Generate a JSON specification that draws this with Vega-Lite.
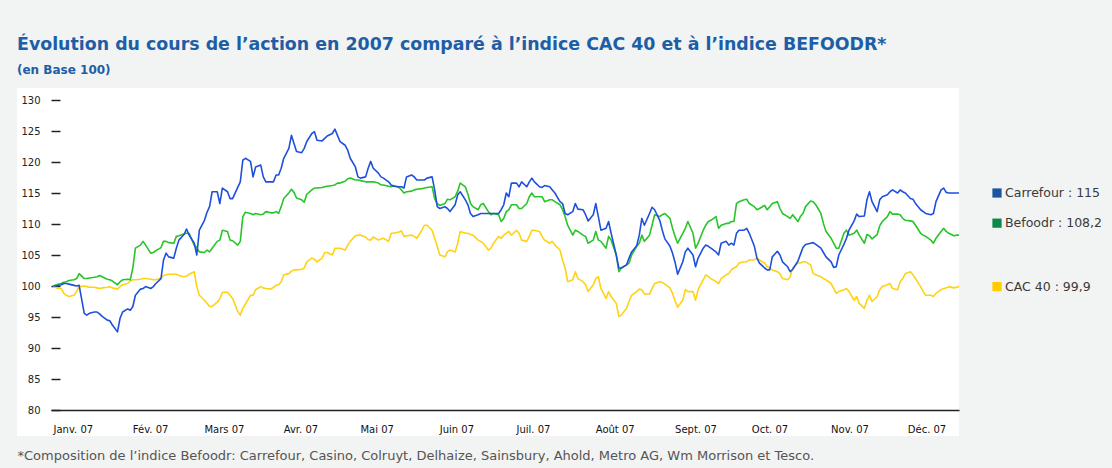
{
  "$schema": "https://vega.github.io/schema/vega-lite/v6.json",
  "width": 942,
  "height": 348,
  "autosize": {"type": "none"},
  "padding": {"left": 17, "top": 88, "right": 153, "bottom": 32},
  "background": "#f2f3f3",
  "config": {"font": "DejaVu Sans", "view": {"fill": "white", "stroke": null}},
  "title": {
    "text": "Évolution du cours de l’action en 2007 comparé à l’indice CAC 40 et à l’indice BEFOODR*",
    "subtitle": "(en Base 100)",
    "anchor": "start", "frame": "group", "dx": 0, "offset": 12,
    "font": "DejaVu Sans", "fontSize": 17.4, "fontWeight": "bold", "color": "#1d5ea6",
    "subtitleFont": "DejaVu Sans", "subtitleFontSize": 12, "subtitleFontWeight": "bold", "subtitleColor": "#1d5ea6", "subtitlePadding": 12
  },
  "datasets": {
    "cours": [
      {"date":"2007-01-02","Carrefour":100.0,"Befoodr":100.0,"CAC40":100.0},
      {"date":"2007-01-03","Carrefour":100.0,"Befoodr":100.2,"CAC40":99.7},
      {"date":"2007-01-05","Carrefour":100.2,"Befoodr":100.4,"CAC40":99.6},
      {"date":"2007-01-06","Carrefour":100.4,"Befoodr":100.6,"CAC40":98.8},
      {"date":"2007-01-07","Carrefour":100.4,"Befoodr":100.7,"CAC40":98.5},
      {"date":"2007-01-08","Carrefour":100.3,"Befoodr":100.9,"CAC40":98.3},
      {"date":"2007-01-10","Carrefour":100.1,"Befoodr":101.0,"CAC40":98.5},
      {"date":"2007-01-11","Carrefour":100.0,"Befoodr":101.2,"CAC40":99.1},
      {"date":"2007-01-12","Carrefour":100.1,"Befoodr":102.0,"CAC40":99.9},
      {"date":"2007-01-14","Carrefour":95.6,"Befoodr":101.2,"CAC40":100.0},
      {"date":"2007-01-15","Carrefour":95.3,"Befoodr":101.2,"CAC40":99.9},
      {"date":"2007-01-16","Carrefour":95.6,"Befoodr":101.3,"CAC40":99.8},
      {"date":"2007-01-18","Carrefour":95.8,"Befoodr":101.4,"CAC40":99.8},
      {"date":"2007-01-19","Carrefour":95.8,"Befoodr":101.5,"CAC40":99.7},
      {"date":"2007-01-20","Carrefour":95.5,"Befoodr":101.7,"CAC40":99.6},
      {"date":"2007-01-21","Carrefour":95.1,"Befoodr":101.5,"CAC40":99.7},
      {"date":"2007-01-23","Carrefour":94.5,"Befoodr":101.1,"CAC40":99.8},
      {"date":"2007-01-24","Carrefour":94.4,"Befoodr":101.0,"CAC40":99.9},
      {"date":"2007-01-25","Carrefour":93.7,"Befoodr":100.8,"CAC40":99.7},
      {"date":"2007-01-27","Carrefour":92.6,"Befoodr":100.2,"CAC40":99.5},
      {"date":"2007-01-28","Carrefour":94.8,"Befoodr":100.7,"CAC40":99.9},
      {"date":"2007-01-29","Carrefour":95.8,"Befoodr":101.0,"CAC40":100.2},
      {"date":"2007-01-31","Carrefour":96.3,"Befoodr":101.1,"CAC40":100.4},
      {"date":"2007-02-01","Carrefour":96.1,"Befoodr":101.0,"CAC40":100.8},
      {"date":"2007-02-02","Carrefour":96.7,"Befoodr":102.9,"CAC40":101.0},
      {"date":"2007-02-03","Carrefour":98.5,"Befoodr":106.1,"CAC40":101.0},
      {"date":"2007-02-05","Carrefour":99.5,"Befoodr":106.6,"CAC40":101.1},
      {"date":"2007-02-06","Carrefour":99.6,"Befoodr":107.2,"CAC40":101.2},
      {"date":"2007-02-07","Carrefour":99.9,"Befoodr":106.6,"CAC40":101.2},
      {"date":"2007-02-09","Carrefour":99.6,"Befoodr":105.3,"CAC40":101.1},
      {"date":"2007-02-10","Carrefour":99.9,"Befoodr":105.4,"CAC40":101.0},
      {"date":"2007-02-11","Carrefour":100.4,"Befoodr":105.7,"CAC40":101.0},
      {"date":"2007-02-13","Carrefour":101.2,"Befoodr":106.2,"CAC40":101.3},
      {"date":"2007-02-14","Carrefour":104.2,"Befoodr":107.2,"CAC40":101.7},
      {"date":"2007-02-15","Carrefour":105.3,"Befoodr":107.2,"CAC40":101.8},
      {"date":"2007-02-16","Carrefour":104.7,"Befoodr":107.0,"CAC40":101.9},
      {"date":"2007-02-18","Carrefour":104.5,"Befoodr":106.9,"CAC40":101.9},
      {"date":"2007-02-19","Carrefour":106.1,"Befoodr":108.0,"CAC40":101.9},
      {"date":"2007-02-20","Carrefour":107.4,"Befoodr":108.1,"CAC40":101.7},
      {"date":"2007-02-22","Carrefour":108.3,"Befoodr":108.4,"CAC40":101.5},
      {"date":"2007-02-23","Carrefour":109.2,"Befoodr":108.5,"CAC40":101.6},
      {"date":"2007-02-24","Carrefour":108.2,"Befoodr":108.5,"CAC40":101.9},
      {"date":"2007-02-26","Carrefour":106.9,"Befoodr":106.6,"CAC40":102.3},
      {"date":"2007-02-27","Carrefour":105.0,"Befoodr":106.2,"CAC40":99.9},
      {"date":"2007-02-28","Carrefour":109.0,"Befoodr":105.5,"CAC40":98.5},
      {"date":"2007-03-02","Carrefour":110.6,"Befoodr":105.4,"CAC40":97.7},
      {"date":"2007-03-03","Carrefour":111.9,"Befoodr":105.8,"CAC40":97.2},
      {"date":"2007-03-04","Carrefour":112.8,"Befoodr":105.5,"CAC40":96.7},
      {"date":"2007-03-05","Carrefour":115.2,"Befoodr":106.1,"CAC40":96.7},
      {"date":"2007-03-07","Carrefour":115.2,"Befoodr":107.2,"CAC40":97.4},
      {"date":"2007-03-08","Carrefour":113.3,"Befoodr":107.4,"CAC40":97.9},
      {"date":"2007-03-09","Carrefour":115.8,"Befoodr":109.0,"CAC40":99.0},
      {"date":"2007-03-11","Carrefour":115.2,"Befoodr":108.8,"CAC40":99.0},
      {"date":"2007-03-12","Carrefour":114.1,"Befoodr":107.4,"CAC40":98.5},
      {"date":"2007-03-13","Carrefour":114.1,"Befoodr":107.3,"CAC40":98.0},
      {"date":"2007-03-15","Carrefour":115.9,"Befoodr":106.6,"CAC40":95.9},
      {"date":"2007-03-16","Carrefour":116.8,"Befoodr":107.2,"CAC40":95.3},
      {"date":"2007-03-17","Carrefour":120.3,"Befoodr":111.2,"CAC40":96.4},
      {"date":"2007-03-18","Carrefour":120.6,"Befoodr":111.9,"CAC40":97.1},
      {"date":"2007-03-20","Carrefour":120.1,"Befoodr":111.7,"CAC40":98.5},
      {"date":"2007-03-21","Carrefour":117.6,"Befoodr":111.5,"CAC40":98.5},
      {"date":"2007-03-22","Carrefour":119.2,"Befoodr":111.7,"CAC40":99.4},
      {"date":"2007-03-24","Carrefour":119.5,"Befoodr":111.5,"CAC40":99.9},
      {"date":"2007-03-25","Carrefour":117.6,"Befoodr":111.6,"CAC40":99.7},
      {"date":"2007-03-26","Carrefour":116.8,"Befoodr":112.0,"CAC40":99.6},
      {"date":"2007-03-28","Carrefour":116.8,"Befoodr":111.8,"CAC40":99.5},
      {"date":"2007-03-29","Carrefour":116.8,"Befoodr":111.8,"CAC40":99.8},
      {"date":"2007-03-30","Carrefour":117.9,"Befoodr":112.0,"CAC40":100.1},
      {"date":"2007-03-31","Carrefour":117.9,"Befoodr":111.7,"CAC40":100.2},
      {"date":"2007-04-01","Carrefour":119.0,"Befoodr":112.8,"CAC40":100.7},
      {"date":"2007-04-02","Carrefour":120.6,"Befoodr":114.1,"CAC40":101.8},
      {"date":"2007-04-04","Carrefour":122.2,"Befoodr":115.0,"CAC40":102.0},
      {"date":"2007-04-05","Carrefour":124.3,"Befoodr":115.6,"CAC40":102.4},
      {"date":"2007-04-06","Carrefour":123.0,"Befoodr":115.1,"CAC40":102.6},
      {"date":"2007-04-07","Carrefour":121.7,"Befoodr":114.2,"CAC40":102.6},
      {"date":"2007-04-09","Carrefour":121.5,"Befoodr":113.9,"CAC40":102.7},
      {"date":"2007-04-10","Carrefour":122.2,"Befoodr":113.5,"CAC40":102.9},
      {"date":"2007-04-11","Carrefour":123.3,"Befoodr":114.8,"CAC40":103.9},
      {"date":"2007-04-13","Carrefour":124.6,"Befoodr":115.5,"CAC40":104.5},
      {"date":"2007-04-14","Carrefour":124.9,"Befoodr":115.8,"CAC40":104.3},
      {"date":"2007-04-15","Carrefour":123.5,"Befoodr":115.8,"CAC40":103.9},
      {"date":"2007-04-17","Carrefour":123.4,"Befoodr":115.9,"CAC40":104.5},
      {"date":"2007-04-18","Carrefour":123.8,"Befoodr":116.0,"CAC40":105.4},
      {"date":"2007-04-19","Carrefour":124.2,"Befoodr":116.1,"CAC40":105.4},
      {"date":"2007-04-21","Carrefour":124.6,"Befoodr":116.2,"CAC40":105.0},
      {"date":"2007-04-22","Carrefour":125.3,"Befoodr":116.3,"CAC40":106.1},
      {"date":"2007-04-23","Carrefour":124.3,"Befoodr":116.6,"CAC40":106.1},
      {"date":"2007-04-24","Carrefour":123.3,"Befoodr":116.6,"CAC40":106.1},
      {"date":"2007-04-26","Carrefour":122.7,"Befoodr":116.9,"CAC40":105.8},
      {"date":"2007-04-27","Carrefour":121.9,"Befoodr":117.3,"CAC40":106.6},
      {"date":"2007-04-28","Carrefour":120.6,"Befoodr":117.4,"CAC40":107.2},
      {"date":"2007-04-30","Carrefour":119.2,"Befoodr":117.1,"CAC40":108.1},
      {"date":"2007-05-01","Carrefour":117.6,"Befoodr":117.1,"CAC40":108.2},
      {"date":"2007-05-02","Carrefour":117.4,"Befoodr":117.0,"CAC40":108.2},
      {"date":"2007-05-04","Carrefour":117.6,"Befoodr":116.8,"CAC40":107.9},
      {"date":"2007-05-05","Carrefour":119.0,"Befoodr":116.8,"CAC40":107.5},
      {"date":"2007-05-06","Carrefour":120.1,"Befoodr":116.8,"CAC40":107.4},
      {"date":"2007-05-07","Carrefour":119.0,"Befoodr":116.8,"CAC40":107.9},
      {"date":"2007-05-09","Carrefour":118.2,"Befoodr":116.6,"CAC40":107.4},
      {"date":"2007-05-10","Carrefour":117.6,"Befoodr":116.3,"CAC40":107.6},
      {"date":"2007-05-11","Carrefour":117.4,"Befoodr":116.3,"CAC40":107.7},
      {"date":"2007-05-13","Carrefour":116.8,"Befoodr":116.1,"CAC40":107.2},
      {"date":"2007-05-14","Carrefour":116.3,"Befoodr":116.0,"CAC40":108.5},
      {"date":"2007-05-15","Carrefour":116.1,"Befoodr":116.2,"CAC40":108.5},
      {"date":"2007-05-17","Carrefour":116.0,"Befoodr":115.9,"CAC40":108.7},
      {"date":"2007-05-18","Carrefour":116.0,"Befoodr":115.5,"CAC40":108.9},
      {"date":"2007-05-19","Carrefour":115.8,"Befoodr":115.0,"CAC40":108.0},
      {"date":"2007-05-20","Carrefour":117.6,"Befoodr":115.2,"CAC40":108.1},
      {"date":"2007-05-22","Carrefour":117.9,"Befoodr":115.3,"CAC40":108.2},
      {"date":"2007-05-23","Carrefour":117.6,"Befoodr":115.5,"CAC40":108.0},
      {"date":"2007-05-24","Carrefour":117.1,"Befoodr":115.6,"CAC40":107.7},
      {"date":"2007-05-26","Carrefour":117.1,"Befoodr":115.7,"CAC40":109.0},
      {"date":"2007-05-27","Carrefour":117.1,"Befoodr":115.8,"CAC40":109.8},
      {"date":"2007-05-28","Carrefour":117.4,"Befoodr":115.9,"CAC40":109.8},
      {"date":"2007-05-30","Carrefour":117.6,"Befoodr":116.0,"CAC40":109.0},
      {"date":"2007-05-31","Carrefour":115.5,"Befoodr":114.1,"CAC40":107.7},
      {"date":"2007-06-01","Carrefour":112.8,"Befoodr":113.3,"CAC40":106.4},
      {"date":"2007-06-02","Carrefour":112.5,"Befoodr":113.0,"CAC40":105.0},
      {"date":"2007-06-04","Carrefour":112.8,"Befoodr":113.3,"CAC40":104.7},
      {"date":"2007-06-05","Carrefour":112.5,"Befoodr":114.0,"CAC40":105.5},
      {"date":"2007-06-06","Carrefour":112.0,"Befoodr":113.9,"CAC40":105.8},
      {"date":"2007-06-08","Carrefour":113.1,"Befoodr":114.4,"CAC40":105.5},
      {"date":"2007-06-09","Carrefour":114.7,"Befoodr":115.3,"CAC40":106.9},
      {"date":"2007-06-10","Carrefour":115.2,"Befoodr":116.6,"CAC40":108.8},
      {"date":"2007-06-12","Carrefour":113.9,"Befoodr":116.0,"CAC40":108.5},
      {"date":"2007-06-13","Carrefour":113.1,"Befoodr":114.8,"CAC40":108.5},
      {"date":"2007-06-14","Carrefour":111.7,"Befoodr":113.3,"CAC40":108.3},
      {"date":"2007-06-15","Carrefour":111.2,"Befoodr":112.8,"CAC40":108.2},
      {"date":"2007-06-17","Carrefour":111.5,"Befoodr":112.3,"CAC40":107.4},
      {"date":"2007-06-18","Carrefour":111.7,"Befoodr":113.1,"CAC40":107.2},
      {"date":"2007-06-19","Carrefour":111.7,"Befoodr":113.3,"CAC40":106.9},
      {"date":"2007-06-21","Carrefour":111.7,"Befoodr":112.0,"CAC40":105.8},
      {"date":"2007-06-22","Carrefour":111.7,"Befoodr":111.5,"CAC40":106.1},
      {"date":"2007-06-23","Carrefour":111.7,"Befoodr":111.7,"CAC40":106.9},
      {"date":"2007-06-25","Carrefour":111.7,"Befoodr":111.5,"CAC40":108.0},
      {"date":"2007-06-26","Carrefour":112.3,"Befoodr":110.4,"CAC40":107.7},
      {"date":"2007-06-27","Carrefour":113.1,"Befoodr":110.9,"CAC40":108.2},
      {"date":"2007-06-28","Carrefour":115.0,"Befoodr":112.0,"CAC40":108.5},
      {"date":"2007-06-29","Carrefour":114.4,"Befoodr":112.3,"CAC40":108.8},
      {"date":"2007-06-30","Carrefour":116.6,"Befoodr":113.1,"CAC40":108.2},
      {"date":"2007-07-02","Carrefour":116.6,"Befoodr":113.1,"CAC40":109.0},
      {"date":"2007-07-03","Carrefour":116.0,"Befoodr":112.5,"CAC40":108.5},
      {"date":"2007-07-04","Carrefour":116.8,"Befoodr":112.5,"CAC40":107.4},
      {"date":"2007-07-06","Carrefour":116.0,"Befoodr":113.3,"CAC40":107.2},
      {"date":"2007-07-07","Carrefour":116.8,"Befoodr":114.4,"CAC40":108.0},
      {"date":"2007-07-08","Carrefour":117.4,"Befoodr":115.0,"CAC40":109.0},
      {"date":"2007-07-09","Carrefour":116.8,"Befoodr":114.4,"CAC40":109.0},
      {"date":"2007-07-11","Carrefour":116.0,"Befoodr":114.4,"CAC40":108.8},
      {"date":"2007-07-12","Carrefour":115.9,"Befoodr":114.4,"CAC40":108.0},
      {"date":"2007-07-13","Carrefour":116.2,"Befoodr":113.6,"CAC40":107.4},
      {"date":"2007-07-15","Carrefour":116.0,"Befoodr":113.9,"CAC40":106.9},
      {"date":"2007-07-16","Carrefour":115.5,"Befoodr":113.9,"CAC40":107.2},
      {"date":"2007-07-17","Carrefour":115.0,"Befoodr":113.6,"CAC40":106.6},
      {"date":"2007-07-19","Carrefour":113.6,"Befoodr":113.1,"CAC40":105.8},
      {"date":"2007-07-20","Carrefour":113.3,"Befoodr":112.3,"CAC40":104.2},
      {"date":"2007-07-21","Carrefour":111.7,"Befoodr":111.2,"CAC40":102.9},
      {"date":"2007-07-22","Carrefour":111.5,"Befoodr":109.8,"CAC40":100.7},
      {"date":"2007-07-24","Carrefour":112.0,"Befoodr":108.2,"CAC40":101.0},
      {"date":"2007-07-25","Carrefour":113.3,"Befoodr":109.0,"CAC40":102.3},
      {"date":"2007-07-26","Carrefour":112.4,"Befoodr":108.8,"CAC40":101.2},
      {"date":"2007-07-28","Carrefour":112.3,"Befoodr":108.2,"CAC40":100.7},
      {"date":"2007-07-29","Carrefour":111.5,"Befoodr":108.0,"CAC40":100.2},
      {"date":"2007-07-30","Carrefour":110.5,"Befoodr":106.9,"CAC40":99.1},
      {"date":"2007-08-01","Carrefour":111.5,"Befoodr":107.4,"CAC40":100.2},
      {"date":"2007-08-02","Carrefour":113.3,"Befoodr":108.8,"CAC40":101.2},
      {"date":"2007-08-03","Carrefour":111.2,"Befoodr":107.4,"CAC40":101.5},
      {"date":"2007-08-04","Carrefour":109.0,"Befoodr":107.2,"CAC40":99.6},
      {"date":"2007-08-06","Carrefour":109.3,"Befoodr":106.1,"CAC40":98.0},
      {"date":"2007-08-07","Carrefour":110.4,"Befoodr":108.0,"CAC40":99.1},
      {"date":"2007-08-08","Carrefour":108.5,"Befoodr":107.4,"CAC40":98.3},
      {"date":"2007-08-10","Carrefour":105.0,"Befoodr":105.0,"CAC40":97.2},
      {"date":"2007-08-11","Carrefour":102.9,"Befoodr":102.3,"CAC40":95.1},
      {"date":"2007-08-12","Carrefour":102.9,"Befoodr":102.9,"CAC40":95.3},
      {"date":"2007-08-14","Carrefour":103.4,"Befoodr":103.4,"CAC40":96.4},
      {"date":"2007-08-15","Carrefour":104.5,"Befoodr":103.7,"CAC40":97.5},
      {"date":"2007-08-16","Carrefour":105.5,"Befoodr":105.0,"CAC40":98.5},
      {"date":"2007-08-18","Carrefour":106.5,"Befoodr":106.4,"CAC40":99.1},
      {"date":"2007-08-19","Carrefour":108.2,"Befoodr":106.9,"CAC40":99.5},
      {"date":"2007-08-20","Carrefour":110.9,"Befoodr":108.2,"CAC40":99.4},
      {"date":"2007-08-21","Carrefour":109.8,"Befoodr":107.2,"CAC40":98.7},
      {"date":"2007-08-23","Carrefour":111.7,"Befoodr":108.2,"CAC40":98.7},
      {"date":"2007-08-24","Carrefour":112.7,"Befoodr":109.8,"CAC40":99.6},
      {"date":"2007-08-25","Carrefour":112.3,"Befoodr":111.5,"CAC40":100.4},
      {"date":"2007-08-27","Carrefour":110.6,"Befoodr":111.2,"CAC40":100.7},
      {"date":"2007-08-28","Carrefour":109.0,"Befoodr":111.5,"CAC40":100.6},
      {"date":"2007-08-29","Carrefour":107.6,"Befoodr":111.7,"CAC40":100.3},
      {"date":"2007-08-31","Carrefour":106.4,"Befoodr":110.9,"CAC40":99.7},
      {"date":"2007-09-01","Carrefour":105.3,"Befoodr":109.3,"CAC40":98.8},
      {"date":"2007-09-02","Carrefour":103.8,"Befoodr":108.0,"CAC40":97.6},
      {"date":"2007-09-03","Carrefour":101.9,"Befoodr":106.9,"CAC40":96.6},
      {"date":"2007-09-05","Carrefour":103.9,"Befoodr":108.5,"CAC40":97.7},
      {"date":"2007-09-06","Carrefour":105.5,"Befoodr":109.3,"CAC40":99.4},
      {"date":"2007-09-07","Carrefour":106.1,"Befoodr":110.4,"CAC40":99.1},
      {"date":"2007-09-09","Carrefour":105.0,"Befoodr":108.5,"CAC40":99.1},
      {"date":"2007-09-10","Carrefour":103.1,"Befoodr":106.1,"CAC40":97.7},
      {"date":"2007-09-11","Carrefour":104.5,"Befoodr":106.9,"CAC40":99.4},
      {"date":"2007-09-13","Carrefour":106.1,"Befoodr":109.0,"CAC40":101.0},
      {"date":"2007-09-14","Carrefour":106.6,"Befoodr":109.8,"CAC40":101.8},
      {"date":"2007-09-15","Carrefour":106.4,"Befoodr":110.4,"CAC40":101.5},
      {"date":"2007-09-16","Carrefour":106.1,"Befoodr":110.6,"CAC40":101.2},
      {"date":"2007-09-18","Carrefour":105.5,"Befoodr":111.2,"CAC40":100.7},
      {"date":"2007-09-19","Carrefour":105.0,"Befoodr":109.3,"CAC40":100.4},
      {"date":"2007-09-20","Carrefour":106.9,"Befoodr":109.8,"CAC40":101.2},
      {"date":"2007-09-22","Carrefour":107.2,"Befoodr":110.1,"CAC40":101.8},
      {"date":"2007-09-23","Carrefour":106.6,"Befoodr":110.1,"CAC40":102.0},
      {"date":"2007-09-24","Carrefour":106.9,"Befoodr":110.4,"CAC40":102.6},
      {"date":"2007-09-25","Carrefour":106.6,"Befoodr":110.4,"CAC40":102.9},
      {"date":"2007-09-26","Carrefour":108.5,"Befoodr":113.3,"CAC40":103.1},
      {"date":"2007-09-27","Carrefour":109.0,"Befoodr":113.6,"CAC40":103.7},
      {"date":"2007-09-29","Carrefour":109.0,"Befoodr":113.9,"CAC40":103.9},
      {"date":"2007-09-30","Carrefour":109.3,"Befoodr":114.0,"CAC40":103.9},
      {"date":"2007-10-01","Carrefour":108.5,"Befoodr":113.3,"CAC40":104.2},
      {"date":"2007-10-03","Carrefour":106.4,"Befoodr":112.8,"CAC40":104.2},
      {"date":"2007-10-04","Carrefour":104.5,"Befoodr":112.3,"CAC40":104.5},
      {"date":"2007-10-05","Carrefour":103.7,"Befoodr":112.5,"CAC40":104.2},
      {"date":"2007-10-07","Carrefour":102.9,"Befoodr":113.0,"CAC40":103.7},
      {"date":"2007-10-08","Carrefour":102.6,"Befoodr":112.3,"CAC40":103.1},
      {"date":"2007-10-09","Carrefour":102.6,"Befoodr":112.8,"CAC40":102.9},
      {"date":"2007-10-10","Carrefour":104.7,"Befoodr":113.3,"CAC40":102.6},
      {"date":"2007-10-12","Carrefour":105.6,"Befoodr":113.6,"CAC40":102.3},
      {"date":"2007-10-13","Carrefour":105.0,"Befoodr":112.5,"CAC40":102.0},
      {"date":"2007-10-14","Carrefour":103.9,"Befoodr":111.7,"CAC40":101.2},
      {"date":"2007-10-16","Carrefour":103.1,"Befoodr":111.2,"CAC40":101.0},
      {"date":"2007-10-17","Carrefour":102.3,"Befoodr":110.9,"CAC40":101.5},
      {"date":"2007-10-18","Carrefour":102.7,"Befoodr":111.5,"CAC40":102.9},
      {"date":"2007-10-20","Carrefour":104.0,"Befoodr":110.4,"CAC40":103.7},
      {"date":"2007-10-21","Carrefour":105.1,"Befoodr":111.2,"CAC40":103.7},
      {"date":"2007-10-22","Carrefour":106.2,"Befoodr":111.7,"CAC40":103.9},
      {"date":"2007-10-23","Carrefour":106.7,"Befoodr":112.8,"CAC40":103.9},
      {"date":"2007-10-25","Carrefour":106.9,"Befoodr":113.7,"CAC40":103.4},
      {"date":"2007-10-26","Carrefour":107.0,"Befoodr":113.6,"CAC40":102.0},
      {"date":"2007-10-27","Carrefour":106.7,"Befoodr":113.1,"CAC40":101.8},
      {"date":"2007-10-29","Carrefour":106.1,"Befoodr":111.7,"CAC40":101.5},
      {"date":"2007-10-30","Carrefour":105.4,"Befoodr":110.1,"CAC40":101.2},
      {"date":"2007-10-31","Carrefour":104.7,"Befoodr":108.8,"CAC40":101.0},
      {"date":"2007-11-02","Carrefour":103.9,"Befoodr":107.7,"CAC40":100.4},
      {"date":"2007-11-03","Carrefour":103.0,"Befoodr":106.9,"CAC40":99.6},
      {"date":"2007-11-04","Carrefour":103.1,"Befoodr":106.1,"CAC40":98.8},
      {"date":"2007-11-05","Carrefour":105.0,"Befoodr":106.1,"CAC40":99.1},
      {"date":"2007-11-07","Carrefour":106.7,"Befoodr":108.5,"CAC40":99.4},
      {"date":"2007-11-08","Carrefour":107.7,"Befoodr":109.0,"CAC40":99.6},
      {"date":"2007-11-09","Carrefour":109.0,"Befoodr":108.2,"CAC40":99.1},
      {"date":"2007-11-11","Carrefour":110.5,"Befoodr":108.5,"CAC40":97.7},
      {"date":"2007-11-12","Carrefour":111.6,"Befoodr":109.0,"CAC40":98.3},
      {"date":"2007-11-13","Carrefour":111.2,"Befoodr":108.2,"CAC40":97.2},
      {"date":"2007-11-15","Carrefour":111.3,"Befoodr":106.9,"CAC40":96.4},
      {"date":"2007-11-16","Carrefour":113.9,"Befoodr":108.3,"CAC40":97.7},
      {"date":"2007-11-17","Carrefour":115.2,"Befoodr":108.1,"CAC40":98.5},
      {"date":"2007-11-18","Carrefour":113.6,"Befoodr":107.6,"CAC40":97.5},
      {"date":"2007-11-20","Carrefour":112.0,"Befoodr":108.3,"CAC40":98.3},
      {"date":"2007-11-21","Carrefour":113.9,"Befoodr":109.7,"CAC40":99.4},
      {"date":"2007-11-22","Carrefour":114.4,"Befoodr":110.4,"CAC40":99.9},
      {"date":"2007-11-24","Carrefour":114.7,"Befoodr":111.2,"CAC40":100.2},
      {"date":"2007-11-25","Carrefour":115.2,"Befoodr":112.0,"CAC40":100.4},
      {"date":"2007-11-26","Carrefour":115.5,"Befoodr":111.6,"CAC40":99.6},
      {"date":"2007-11-28","Carrefour":115.0,"Befoodr":111.6,"CAC40":99.4},
      {"date":"2007-11-29","Carrefour":115.5,"Befoodr":111.5,"CAC40":100.7},
      {"date":"2007-11-30","Carrefour":115.2,"Befoodr":110.9,"CAC40":101.2},
      {"date":"2007-12-01","Carrefour":115.0,"Befoodr":110.6,"CAC40":102.0},
      {"date":"2007-12-03","Carrefour":114.1,"Befoodr":110.5,"CAC40":102.3},
      {"date":"2007-12-04","Carrefour":114.0,"Befoodr":110.4,"CAC40":101.8},
      {"date":"2007-12-05","Carrefour":113.3,"Befoodr":109.8,"CAC40":101.2},
      {"date":"2007-12-07","Carrefour":112.3,"Befoodr":108.5,"CAC40":99.9},
      {"date":"2007-12-08","Carrefour":112.0,"Befoodr":108.2,"CAC40":99.1},
      {"date":"2007-12-09","Carrefour":111.7,"Befoodr":108.0,"CAC40":98.5},
      {"date":"2007-12-11","Carrefour":111.5,"Befoodr":107.4,"CAC40":98.5},
      {"date":"2007-12-12","Carrefour":111.7,"Befoodr":106.9,"CAC40":98.3},
      {"date":"2007-12-13","Carrefour":113.6,"Befoodr":107.7,"CAC40":98.8},
      {"date":"2007-12-15","Carrefour":115.5,"Befoodr":108.8,"CAC40":99.4},
      {"date":"2007-12-16","Carrefour":115.8,"Befoodr":109.3,"CAC40":99.6},
      {"date":"2007-12-17","Carrefour":115.1,"Befoodr":108.8,"CAC40":99.7},
      {"date":"2007-12-18","Carrefour":115.0,"Befoodr":108.5,"CAC40":99.9},
      {"date":"2007-12-20","Carrefour":115.0,"Befoodr":108.1,"CAC40":99.7},
      {"date":"2007-12-21","Carrefour":115.0,"Befoodr":108.2,"CAC40":99.8},
      {"date":"2007-12-22","Carrefour":115.0,"Befoodr":108.2,"CAC40":99.9}
    ],
    "legende": [
      {"serie": "Carrefour", "libelle": "Carrefour : 115", "date": "2007-12-22", "valeur": 115},
      {"serie": "Befoodr", "libelle": "Befoodr : 108,2", "date": "2007-12-22", "valeur": 108.2},
      {"serie": "CAC40", "libelle": "CAC 40 : 99,9", "date": "2007-12-22", "valeur": 99.9}
    ]
  },
  "encoding": {
    "x": {
      "field": "date", "type": "temporal",
      "scale": {"type": "utc", "range": [34, 942], "domain": [{"year": 2007, "month": 1, "date": 1, "utc": true}, {"year": 2007, "month": 12, "date": 22, "utc": true}]},
      "axis": {
        "offset": -26,
        "title": "*Composition de l’indice Befoodr: Carrefour, Casino, Colruyt, Delhaize, Sainsbury, Ahold, Metro AG, Wm Morrison et Tesco.",
        "titleX": 0, "titleY": 45, "titleAlign": "left", "titleAnchor": "start", "titleBaseline": "middle",
        "titleFont": "DejaVu Sans", "titleFontSize": 13, "titleFontWeight": "normal", "titleColor": "#555555",
        "values": [
          {"year": 2007, "month": 1, "date": 1, "utc": true},
          {"year": 2007, "month": 2, "date": 1, "utc": true},
          {"year": 2007, "month": 3, "date": 1, "utc": true},
          {"year": 2007, "month": 4, "date": 1, "utc": true},
          {"year": 2007, "month": 5, "date": 1, "utc": true},
          {"year": 2007, "month": 6, "date": 1, "utc": true},
          {"year": 2007, "month": 7, "date": 1, "utc": true},
          {"year": 2007, "month": 8, "date": 1, "utc": true},
          {"year": 2007, "month": 9, "date": 1, "utc": true},
          {"year": 2007, "month": 10, "date": 1, "utc": true},
          {"year": 2007, "month": 11, "date": 1, "utc": true},
          {"year": 2007, "month": 12, "date": 1, "utc": true}
        ],
        "labelExpr": "['Janv. 07','Fév. 07','Mars 07','Avr. 07','Mai 07','Juin 07','Juil. 07','Août 07','Sept. 07','Oct. 07','Nov. 07','Déc. 07'][utcmonth(datum.value)]",
        "labelAlign": "left", "labelOffset": 2, "labelPadding": 14, "labelFont": "DejaVu Sans", "labelFontSize": 10, "labelColor": "#111111",
        "labelOverlap": false, "labelFlush": false,
        "ticks": false, "grid": false, "domainColor": "#222222", "domainWidth": 1.5
      }
    },
    "y": {
      "field": "indice", "type": "quantitative",
      "scale": {"domain": [80, 130], "zero": false, "nice": false, "range": [322, 12]},
      "axis": {
        "offset": -34,
        "title": null, "values": [80, 85, 90, 95, 100, 105, 110, 115, 120, 125, 130],
        "domain": false, "grid": false, "tickSize": -9, "tickWidth": 1.5, "tickColor": "#222222",
        "labelPadding": 20, "labelFont": "DejaVu Sans", "labelFontSize": 10, "labelColor": "#222222"
      }
    }
  },
  "layer": [
    {
      "data": {"name": "cours"},
      "transform": [{"fold": ["CAC40", "Befoodr", "Carrefour"], "as": ["serie", "indice"]}],
      "mark": {"type": "line", "strokeWidth": 1.6, "strokeJoin": "round"},
      "encoding": {
        "color": {"field": "serie", "type": "nominal", "legend": null,
          "scale": {"domain": ["Carrefour", "Befoodr", "CAC40"], "range": ["#1f50dc", "#28c428", "#ffd214"]}}
      }
    },
    {
      "data": {"name": "legende"},
      "transform": [{"filter": "datum.serie !== 'Befoodr'"}],
      "mark": {"type": "text", "align": "left", "baseline": "middle", "dx": 46, "fontSize": 12.5, "font": "DejaVu Sans", "color": "#3a3a3a"},
      "encoding": {
        "y": {"field": "valeur", "type": "quantitative"},
        "text": {"field": "libelle", "type": "nominal"}
      }
    },
    {
      "data": {"name": "legende"},
      "transform": [{"filter": "datum.serie === 'Befoodr'"}],
      "mark": {"type": "text", "align": "left", "baseline": "middle", "dx": 46, "dy": -12, "fontSize": 12.5, "font": "DejaVu Sans", "color": "#3a3a3a"},
      "encoding": {
        "y": {"field": "valeur", "type": "quantitative"},
        "text": {"field": "libelle", "type": "nominal"}
      }
    },
    {
      "data": {"name": "legende"},
      "transform": [{"filter": "datum.serie !== 'Befoodr'"}],
      "mark": {"type": "point", "shape": "square", "filled": true, "size": 85, "opacity": 1},
      "encoding": {
        "xOffset": {"value": 38},
        "y": {"field": "valeur", "type": "quantitative"},
        "fill": {"field": "serie", "type": "nominal", "legend": null,
          "scale": {"domain": ["Carrefour", "Befoodr", "CAC40"], "range": ["#1a56a0", "#0a8a48", "#ffcc00"]}}
      }
    },
    {
      "data": {"name": "legende"},
      "transform": [{"filter": "datum.serie === 'Befoodr'"}],
      "mark": {"type": "point", "shape": "square", "filled": true, "size": 85, "opacity": 1},
      "encoding": {
        "xOffset": {"value": 38},
        "y": {"field": "valeur", "type": "quantitative"},
        "yOffset": {"value": -12},
        "fill": {"field": "serie", "type": "nominal", "legend": null,
          "scale": {"domain": ["Carrefour", "Befoodr", "CAC40"], "range": ["#1a56a0", "#0a8a48", "#ffcc00"]}}
      }
    }
  ]
}
